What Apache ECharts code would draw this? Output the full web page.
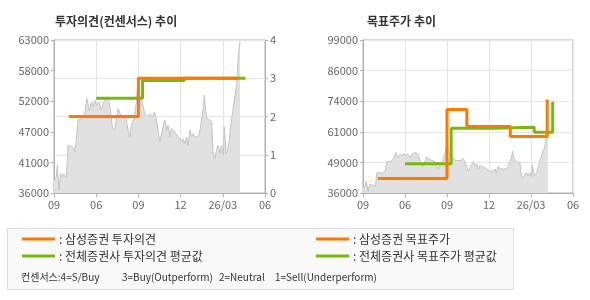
<!DOCTYPE html>
<html><head><meta charset="utf-8">
<script src="https://cdn.jsdelivr.net/npm/echarts@6/dist/echarts.min.js"></script>
<style>html,body{margin:0;padding:0;background:#fff}#c{width:590px;height:300px}</style>
</head><body><div id="c"></div>
<script>
// ---- data ----
const xLabels = ['09', '06', '09', '12', '26/03', '06'];
const leftPriceLabels = ['36000', '41000', '47000', '52000', '58000', '63000'];
const rightPriceLabels = ['36000', '49000', '61000', '74000', '86000', '99000'];
const opinionLabels = ['0', '1', '2', '3', '4'];

// day offsets from the first x label, and closing prices
const priceDays = [0,5,7,11,14,17,20,23,27,30,35,41,45,48,52,56,59,63,66,71,76,81,84,88,92,97,102,107,113,119,122,126,131,135,138,143,149,155,160,164,167,171,174,178,182,185,189,194,198,203,207,212,217,221,225,228,232,235,239,243,246,250,253,257,263,268,271,275,279,282,286,289,293,297,300,304,307,311,315,318,322,324,327,330,335,340,343,347,350,354,358,361,365,367,371,374,377,380,383,387,390,394,397,401];
const prices = [38200,38800,40900,36500,39400,38800,39400,39700,38800,44400,44300,44100,43300,45300,48900,49100,49000,49300,50000,52700,50600,52100,51200,52400,51500,52100,50600,52100,52700,52100,50600,47400,47100,49400,50900,50000,49400,49100,47100,45900,48000,48900,50000,52400,56500,53000,52400,50600,49700,49400,50000,49400,50300,48900,48900,45000,46500,47700,48900,47100,48000,45900,47400,47100,46500,45900,45600,45000,45600,44700,45900,44400,47100,45900,46500,45900,46200,45900,47100,48900,50900,53300,50600,49100,48900,48600,43000,42100,43500,44400,43000,44400,42700,47700,43000,43500,44700,47100,49100,49400,53000,55300,59500,62700];

const opinionSamsungDays = [32, 182, 397];
const opinionSamsung = [2, 3, 3];
const opinionAvgDays = [91, 191, 281, 413];
const opinionAvg = [2.48, 2.94, 3, 3];

const targetSamsungDays = [32, 182, 225, 319, 399];
const targetSamsung = [42000, 70400, 63400, 59300, 74500];
const targetAvgDays = [91, 191, 281, 371, 411];
const targetAvg = [48000, 62700, 63100, 61000, 73600];

// ---- helpers ----
const zip = (a, b) => a.map((v, i) => [v, b[i]]);
const ORANGE = '#ff7800', GREEN = '#78b80c';
const FONT = '"Noto Sans CJK KR", "Noto Sans", sans-serif';
const axisCol = '#b0b0b0', gridCol = '#e6e6e6', labCol = '#666';
const QUARTER = 91;

function xAxis(gi) {
  return {
    type: 'value', gridIndex: gi, min: 0, max: QUARTER * 5, interval: QUARTER,
    axisLine: { show: true, lineStyle: { color: axisCol } },
    axisTick: { show: true, length: 4, lineStyle: { color: axisCol } },
    splitLine: { show: true, lineStyle: { color: gridCol } },
    axisLabel: { color: labCol, fontSize: 11, fontFamily: FONT, margin: 6,
      showMinLabel: true, showMaxLabel: true,
      formatter: v => xLabels[Math.round(v / QUARTER)] }
  };
}
function labelAxis(gi, labels, pos, split) {
  const n = labels.length - 1;
  return {
    type: 'value', gridIndex: gi, position: pos, min: 0, max: n, interval: 1,
    axisLine: { show: true, lineStyle: { color: axisCol } },
    axisTick: { show: true, length: 3, lineStyle: { color: axisCol } },
    splitLine: { show: split, lineStyle: { color: gridCol } },
    axisLabel: { color: labCol, fontSize: 11, fontFamily: FONT, margin: 5,
      formatter: v => labels[Math.round(v)] }
  };
}
function hiddenAxis(gi, min, max) {
  return { type: 'value', gridIndex: gi, min: min, max: max, show: false, splitLine: { show: false } };
}
function priceSeries(xi, yi) {
  return {
    type: 'line', xAxisIndex: xi, yAxisIndex: yi, data: zip(priceDays, prices),
    symbol: 'none', silent: true, z: 1,
    lineStyle: { color: '#c4c4c4', width: 1 },
    areaStyle: { color: '#e0e0e0', opacity: 1 }
  };
}
function stepSeries(name, xi, yi, days, vals, color, z) {
  return {
    name: name, type: 'line', xAxisIndex: xi, yAxisIndex: yi, data: zip(days, vals),
    step: 'end', symbol: 'none', z: z,
    lineStyle: { color: color, width: 3 }, itemStyle: { color: color }
  };
}

const chart = echarts.init(document.getElementById('c'), null, { renderer: 'canvas' });
const legendCommon = {
  orient: 'vertical', itemWidth: 33, itemHeight: 3, itemGap: 5, icon: 'rect',
  selectedMode: false, padding: 0,
  textStyle: { color: '#333', fontSize: 12, fontFamily: FONT, padding: [0, 0, 0, -1] },
  formatter: n => ': ' + n
};
const noteFont = '10px ' + FONT;
chart.setOption({
  animation: false,
  backgroundColor: '#fff',
  title: [
    { text: '투자의견(컨센서스) 추이', left: 55, top: 15, padding: 0,
      textStyle: { fontSize: 12, fontWeight: 'bold', color: '#333', fontFamily: FONT } },
    { text: '목표주가 추이', left: 367, top: 15, padding: 0,
      textStyle: { fontSize: 12, fontWeight: 'bold', color: '#333', fontFamily: FONT } }
  ],
  grid: [
    { left: 54, top: 40, width: 211, height: 153, show: true, borderColor: axisCol, borderWidth: 1, backgroundColor: '#fff' },
    { left: 363, top: 40, width: 210, height: 153, show: true, borderColor: axisCol, borderWidth: 1, backgroundColor: '#fff' }
  ],
  xAxis: [xAxis(0), xAxis(1)],
  yAxis: [
    labelAxis(0, leftPriceLabels, 'left', false),
    hiddenAxis(0, 36000, 63000),
    labelAxis(0, opinionLabels, 'right', true),
    labelAxis(1, rightPriceLabels, 'left', true),
    hiddenAxis(1, 36000, 99000)
  ],
  legend: [
    Object.assign({ left: 22, top: 233, data: ['삼성증권 투자의견', '전체증권사 투자의견 평균값'] }, legendCommon),
    Object.assign({ left: 316, top: 233, data: ['삼성증권 목표주가', '전체증권사 목표주가 평균값'] }, legendCommon)
  ],
  graphic: [
    { type: 'rect', z: -10, shape: { x: 7.5, y: 228.5, width: 506, height: 61 },
      style: { fill: '#f9f9f9', stroke: '#dcdcdc', lineWidth: 1 } },
    { type: 'text', x: 21, y: 277, style: { text: '컨센서스:4=S/Buy', fill: '#333', font: noteFont, verticalAlign: 'middle' } },
    { type: 'text', x: 122, y: 277, style: { text: '3=Buy(Outperform)', fill: '#333', font: noteFont, verticalAlign: 'middle' } },
    { type: 'text', x: 219, y: 277, style: { text: '2=Neutral', fill: '#333', font: noteFont, verticalAlign: 'middle' } },
    { type: 'text', x: 275, y: 277, style: { text: '1=Sell(Underperform)', fill: '#333', font: noteFont, verticalAlign: 'middle' } }
  ],
  series: [
    priceSeries(0, 1),
    stepSeries('전체증권사 투자의견 평균값', 0, 2, opinionAvgDays, opinionAvg, GREEN, 3),
    stepSeries('삼성증권 투자의견', 0, 2, opinionSamsungDays, opinionSamsung, ORANGE, 4),
    priceSeries(1, 4),
    stepSeries('전체증권사 목표주가 평균값', 1, 4, targetAvgDays, targetAvg, GREEN, 3),
    stepSeries('삼성증권 목표주가', 1, 4, targetSamsungDays, targetSamsung, ORANGE, 4)
  ]
});
</script></body></html>
